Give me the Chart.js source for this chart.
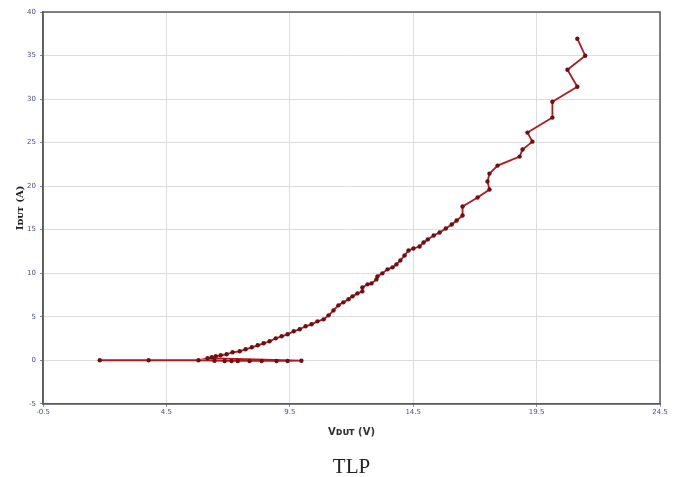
<!DOCTYPE html>
<html>
<head>
<meta charset="utf-8">
<script src="https://cdn.jsdelivr.net/npm/chart.js@4.4.1/dist/chart.umd.min.js"></script>
<style>
  html, body { margin: 0; padding: 0; background: #fff; }
  #wrap { width: 675px; height: 477px; }
</style>
</head>
<body>
<div id="wrap"><canvas id="tlpChart" width="675" height="477"></canvas></div>
<script>
// TLP measurement: voltage (V) and current (A), in measurement order
let vDut = [1.80, 3.78, 5.80, 6.45, 6.86, 7.14, 7.39, 7.87, 8.36, 8.96, 9.41, 9.97,
    6.17, 6.34, 6.50, 6.70, 6.94, 7.18, 7.47, 7.71, 7.96, 8.20, 8.44, 8.68, 8.93,
    9.17, 9.41, 9.66, 9.90, 10.14, 10.38, 10.62, 10.87, 11.07, 11.27, 11.47, 11.67,
    11.88, 12.04, 12.24, 12.44, 12.44, 12.65, 12.81, 13.01, 13.05, 13.25, 13.46,
    13.66, 13.82, 13.98, 14.15, 14.31, 14.51, 14.76, 14.92, 15.09, 15.33, 15.57,
    15.82, 16.06, 16.26, 16.50, 16.50, 17.11, 17.59, 17.51, 17.59, 17.92, 18.81,
    18.93, 19.33, 19.13, 20.14, 20.14, 21.15, 20.75, 21.47, 21.15];
let iDut = [0, 0, 0, -0.05, -0.08, -0.08, -0.08, -0.08, -0.08, -0.08, -0.08, -0.05,
    0.23, 0.34, 0.46, 0.57, 0.69, 0.92, 1.03, 1.26, 1.49, 1.72, 1.95, 2.18, 2.52,
    2.75, 2.98, 3.33, 3.56, 3.90, 4.13, 4.47, 4.70, 5.16, 5.73, 6.31, 6.65,
    7.00, 7.34, 7.68, 7.91, 8.37, 8.72, 8.83, 9.29, 9.63, 9.98, 10.44,
    10.67, 11.01, 11.47, 12.04, 12.61, 12.84, 13.07, 13.53, 13.88, 14.33, 14.68,
    15.14, 15.60, 16.06, 16.63, 17.66, 18.69, 19.61, 20.53, 21.44, 22.36, 23.39,
    24.20, 25.11, 26.15, 27.87, 29.70, 31.42, 33.37, 34.98, 36.93];

let xTicks = [-0.5, 4.5, 9.5, 14.5, 19.5, 24.5];
let yTicks = [-5, 0, 5, 10, 15, 20, 25, 30, 35, 40];

let points = [];
for (let i = 0; i < vDut.length; i++) {
    points.push({ x: vDut[i], y: iDut[i] });
}

// dark frame round the plot area
let frame = {
    id: 'frame',
    afterDraw(chart) {
        let a = chart.chartArea;
        let c = chart.ctx;
        c.save();
        c.strokeStyle = '#5a5a5a';
        c.lineWidth = 1.5;
        c.strokeRect(a.left, a.top, a.right - a.left, a.bottom - a.top);
        c.restore();
    }
};

let tickFont = { family: 'DejaVu Sans', size: 7 };

new Chart(document.getElementById('tlpChart').getContext('2d'), {
    type: 'scatter',
    data: {
        datasets: [{
            data: points,
            showLine: true,
            borderColor: '#b3191c',
            borderWidth: 1.8,
            pointRadius: 2.2,
            pointBackgroundColor: '#6e1012',
            pointBorderColor: '#6e1012',
            pointBorderWidth: 0
        }]
    },
    options: {
        responsive: false,
        animation: false,
        layout: { padding: { top: 12, right: 15, left: 0, bottom: 0 } },
        plugins: {
            legend: { display: false },
            tooltip: { enabled: false },
            title: {
                display: true,
                text: 'TLP',
                position: 'bottom',
                fullSize: false,
                color: '#222',
                font: { family: 'Liberation Serif', size: 21, weight: 'normal' },
                padding: { top: 10, bottom: -3 }
            }
        },
        scales: {
            x: {
                type: 'linear',
                min: -0.5,
                max: 24.5,
                afterBuildTicks: s => { s.ticks = xTicks.map(v => ({ value: v })); },
                afterFit: s => { s.height = 41; },
                ticks: {
                    color: '#4a4aa0',
                    font: tickFont,
                    padding: 1,
                    maxRotation: 0,
                    callback: v => v.toFixed(1)
                },
                grid: { color: '#dcdcdc', tickLength: 3, tickColor: '#888' },
                border: { color: '#5a5a5a', width: 1.5 },
                title: {
                    display: true,
                    text: 'Vᴅᴜᴛ (V)',
                    color: '#333',
                    font: { family: 'DejaVu Sans', size: 10, weight: 'bold' },
                    padding: { top: 0, bottom: 6 }
                }
            },
            y: {
                min: -5,
                max: 40,
                afterBuildTicks: s => { s.ticks = yTicks.map(v => ({ value: v })); },
                afterFit: s => { s.width = 43; },
                ticks: {
                    color: '#4a4aa0',
                    font: tickFont,
                    padding: 4
                },
                grid: { color: '#dcdcdc', tickLength: 3, tickColor: '#888' },
                border: { color: '#5a5a5a', width: 1.5 },
                title: {
                    display: true,
                    text: 'Iᴅᴜᴛ (A)',
                    color: '#222',
                    font: { family: 'DejaVu Serif', size: 10, weight: 'bold' },
                    padding: { top: 14, bottom: 0 }
                }
            }
        }
    },
    plugins: [frame]
});
</script>
</body>
</html>
